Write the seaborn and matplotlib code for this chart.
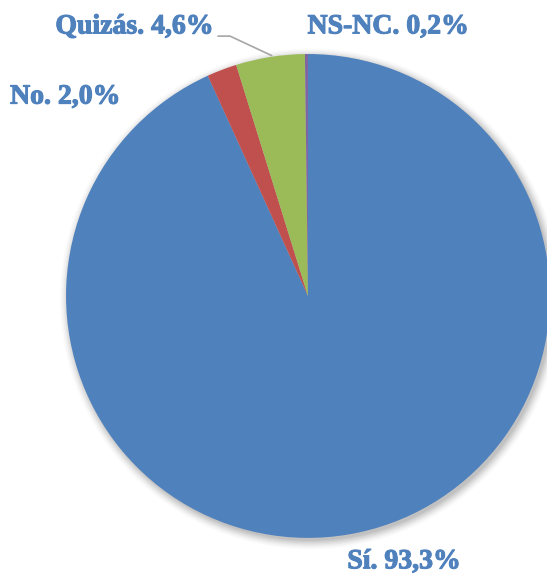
import matplotlib
matplotlib.use("Agg")
import matplotlib.pyplot as plt
import matplotlib.patheffects as pe
import seaborn as sns
import numpy as np

# Survey answers, share of respondents (%)
categories = ["Sí", "No", "Quizás", "NS-NC"]
shares = [93.3, 2.0, 4.6, 0.2]
colors = ["#4F81BD", "#C0504D", "#9BBB59", "#8064A2"]

sns.set_theme(style="white")
plt.rcParams['font.family'] = ['Liberation Serif', 'DejaVu Serif']

fig = plt.figure(figsize=(5.47, 5.74), dpi=100)
ax = fig.add_axes([0, 0, 1, 1])

# soft shadow behind the pie
for r, a in zip(np.linspace(1.035, 1.0, 8), np.linspace(0.015, 0.05, 8)):
    ax.add_patch(plt.Circle((0.01, -0.012), r, color="black", alpha=a, lw=0, zorder=0))

wedges, _ = ax.pie(shares, colors=colors, startangle=90, counterclock=False,
                   wedgeprops=dict(linewidth=0), radius=1.0)
for w in wedges:
    w.set_zorder(2)

ax.set_xlim(-1.273, 0.988)
ax.set_ylim(-1.149, 1.223)
ax.set_aspect('equal')
ax.axis('off')

label_color = "#4F81BD"
label_pos = {"Sí": (0.397, -1.099), "No": (-1.004, 0.822),
             "Quizás": (-0.717, 1.112), "NS-NC": (0.331, 1.112)}
for cat, val in zip(categories, shares):
    txt = f"{cat}. " + f"{val:.1f}%".replace(".", ",")
    x, y = label_pos[cat]
    ax.text(x, y, txt, ha="center", va="center", fontsize=20,
            fontweight="bold", color=label_color, zorder=3,
            path_effects=[pe.withStroke(linewidth=0.8, foreground=label_color)])

# leader line for Quizás
start = sum(shares[:2]) + shares[2] / 2
ang = np.deg2rad(90 - 360 * start / 100)
ax.plot([-0.372, -0.322, np.cos(ang)], [1.074, 1.074, np.sin(ang) + 0.005],
        color="#A6A6A6", lw=1.2, zorder=3)

fig.savefig("out.png", dpi=100)
